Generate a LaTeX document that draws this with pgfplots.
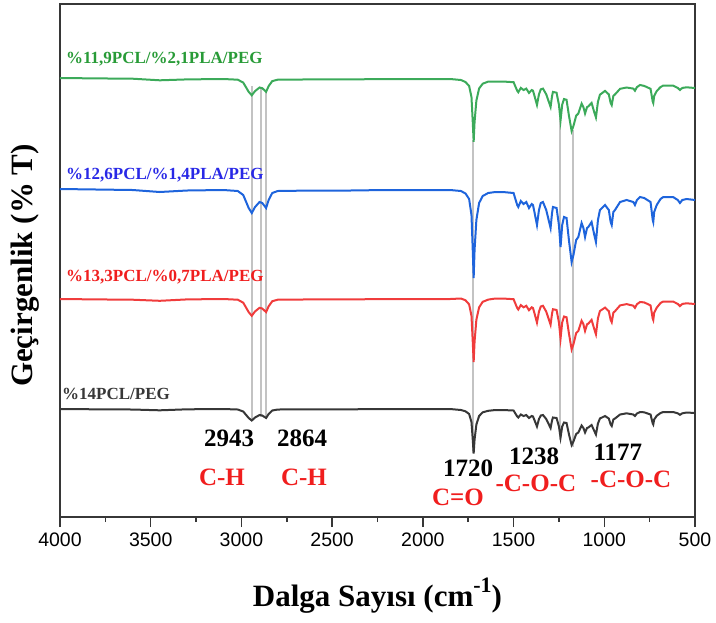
\documentclass[border=0pt]{standalone}
\usepackage{pgfplots}
\usepackage{pgfplotstable}
\usepackage{fontspec}
\setmainfont{Liberation Serif}
\setsansfont{Liberation Sans}
\pgfplotsset{compat=1.18}

\definecolor{cgreen}{RGB}{60,170,90}
\definecolor{cblue}{RGB}{30,100,220}
\definecolor{cred}{RGB}{240,60,60}
\definecolor{cblack}{RGB}{55,55,55}
\definecolor{lgreen}{RGB}{40,155,55}
\definecolor{lblue}{RGB}{40,40,230}
\definecolor{lred}{RGB}{240,30,30}
\definecolor{cgrey}{RGB}{195,195,195}

% wavenumber, then the four offset spectra (vertical position, arbitrary units, downward = absorption)
\pgfplotstableread{
wn    green  blue  red    black
4000  78     189   299    409
3800  78.4   189.5 299.4  409.3
3600  78.7   190   299.7  409.5
3450  80.3   192   300.8  410.3
3300  79.4   190.5 299.4  409.3
3100  79     190   299    409
3020  79.7   191   299.7  409.5
2990  82.6   195   302.7  411.5
2960  91.8   208   312.1  418
2943  95.3   213   315.8  420.5
2925  91.1   207   311.4  417.5
2900  87.5   202   307.8  415
2885  88.2   203   308.5  415.5
2864  91.8   208   312.1  418
2850  86.1   200   306.3  414
2830  81.1   193   301.2  410.5
2800  79.7   191   299.7  409.5
2600  79.4   190.5 299.4  409.3
2400  79.4   190.5 299.4  409.3
2200  79     190   299    409
2000  79     190   299    409
1850  79     190   299    409
1790  80     191   298.5  410
1765  82     193.5 300.3  411.3
1745  86     199   304.3  414
1732  97     215   315.8  422
1725  121.9  250   341.6  439.5
1720  141.8  278   362    453.5
1715  121.9  250   341.6  439.5
1705  100.6  220   319.7  424.5
1690  88.5   203   307.3  416
1670  83.7   196   301.8  412.3
1640  81.6   193   299.6  410.8
1600  81.5   192   298.5  410
1560  81.5   192   298.5  410
1500  82.2   193   299.2  410.5
1480  90.7   205   308    416.5
1474  92.2   207   309.5  417.5
1460  87.9   201   305.1  414.5
1445  90     204   307.3  416
1430  88.6   202   305.8  415
1415  92.9   208   310.2  418
1400  90     204   307.3  416
1393  90.7   205   308    416.5
1385  95.7   212   313.1  420
1371  104.9  225   322.6  426.5
1360  94.3   210   311.6  419
1350  89.3   203   306.5  415.5
1338  88.6   202   305.8  415
1320  94.3   210   311.6  419
1296  106.9  228   324.6  428
1288  96.2   213   313.6  420.5
1283  91.9   207   309.2  417.5
1263  92.7   208   310    418
1250  104.7  225   322.4  426.5
1241  120.3  247   338.4  437.5
1232  104.7  225   322.4  426.5
1222  99     217   316.5  422.5
1208  99.8   218   317.3  423
1195  115.4  240   333.3  434
1180  131    262   349.4  445
1170  126    255   344.3  441.5
1155  115.7  240   333.1  434
1143  113.5  237   330.9  432.5
1125  103.6  223   320.7  425.5
1115  107.1  228   324.3  428
1106  113.5  237   330.9  432.5
1095  107.1  228   324.3  428
1088  106.4  227   323.6  427.5
1070  102.9  222   319.9  425
1055  112.4  235   329.2  431
1046  117.4  242   334.3  434.5
1035  101.8  220   318.3  423.5
1024  94.7   210   311    418.5
996   90.9   205   307.6  416
975   94.4   210   311.2  418.5
965   103    222   320    424.5
959   105.1  225   322.2  426
950   95.9   212   312.7  419.5
941   94.4   210   311.2  418.5
913   88.8   202   305.4  414.5
877   87.5   200   304.1  413.3
840   88.6   202   305.7  414.5
831   90.7   205   307.8  416
820   87.1   200   304.2  413.5
803   85     197   302    412
780   85.9   198   302.4  412.3
745   88.8   202   305.4  414.5
733   101.6  220   318.6  423.5
730   103    222   320    424.5
725   95.9   212   312.7  419.5
711   91.1   205   307.7  415.8
690   87     199   303    413
675   85.6   197   301.5  412
621   85.6   197   301.5  412
595   87.9   200   303.9  413.3
583   90     203   306.1  414.8
570   87.9   200   303.9  413.3
546   87.3   199   303.3  412.5
500   88     200   304    413
}\spectra

\begin{document}
\begin{tikzpicture}
\begin{axis}[
    scale only axis,
    width=635pt, height=513pt,
    x dir=reverse, xmin=500, xmax=4000,
    y dir=reverse, ymin=4, ymax=517,
    ytick=\empty,
    xtick={500,1000,...,4000},
    minor x tick num=1,
    xtick pos=bottom,
    tick align=outside,
    major tick length=10pt,
    minor tick length=5pt,
    every tick/.style={cblack, line width=1.5pt},
    axis line style={cblack, line width=1.8pt},
    xticklabel style={font=\sffamily\fontsize{19.5}{20}\selectfont, yshift=-2pt},
    /pgf/number format/1000 sep={},
    /pgf/number format/assume math mode=true,
    clip=false,
]
% guide lines through the main bands
\addplot[cgrey, line width=2pt] coordinates {(2943,86) (2943,420)};
\addplot[cgrey, line width=2pt] coordinates {(2892,88) (2892,417)};
\addplot[cgrey, line width=2pt] coordinates {(2864,90) (2864,418)};
\addplot[cgrey, line width=2pt] coordinates {(1722,140) (1722,453)};
\addplot[cgrey, line width=2pt] coordinates {(1244,118) (1244,440)};
\addplot[cgrey, line width=2pt] coordinates {(1172,130) (1172,447)};

\addplot[cgreen, line width=2pt] table[x=wn, y=green] {\spectra};
\addplot[cblue,  line width=2pt] table[x=wn, y=blue]  {\spectra};
\addplot[cred,   line width=2pt] table[x=wn, y=red]   {\spectra};
\addplot[cblack, line width=2pt] table[x=wn, y=black] {\spectra};

\begin{scope}[every node/.style={font=\bfseries\fontsize{17}{17}\selectfont, anchor=west, inner sep=0pt}]
\node[lgreen] at (axis cs:3967,59) {\%11,9PCL/\%2,1PLA/PEG};
\node[lblue]  at (axis cs:3967,175) {\%12,6PCL/\%1,4PLA/PEG};
\node[lred]   at (axis cs:3967,277) {\%13,3PCL/\%0,7PLA/PEG};
\node[cblack] at (axis cs:3989,394) {\%14PCL/PEG};
\end{scope}

\begin{scope}[every node/.style={font=\bfseries\fontsize{25}{25}\selectfont, inner sep=0pt}]
\node[black] at (axis cs:3068,438) {2943};
\node[lred]  at (axis cs:3107,477) {C-H};
\node[black] at (axis cs:2666,438) {2864};
\node[lred]  at (axis cs:2655,477) {C-H};
\node[black] at (axis cs:1751,468) {1720};
\node[lred]  at (axis cs:1806,497) {C=O};
\node[black] at (axis cs:1387,456) {1238};
\node[lred]  at (axis cs:1377,483) {-C-O-C};
\node[black] at (axis cs:925,452) {1177};
\node[lred]  at (axis cs:853,479) {-C-O-C};
\end{scope}
\end{axis}
\node[font=\bfseries\fontsize{31}{31}\selectfont, inner sep=0pt]
  at ([yshift=-79pt]current axis.south) {Dalga Sayısı (cm\raisebox{0.45em}{\fontsize{22}{22}\selectfont -1})};
\node[font=\bfseries\fontsize{31}{31}\selectfont, inner sep=0pt, rotate=90]
  at ([xshift=-35pt,yshift=-5pt]current axis.west) {Geçirgenlik (\% T)};
\path ([shift={(-60pt,-105pt)}]current axis.south west) rectangle ([shift={(21pt,4pt)}]current axis.north east);
\end{tikzpicture}
\end{document}
